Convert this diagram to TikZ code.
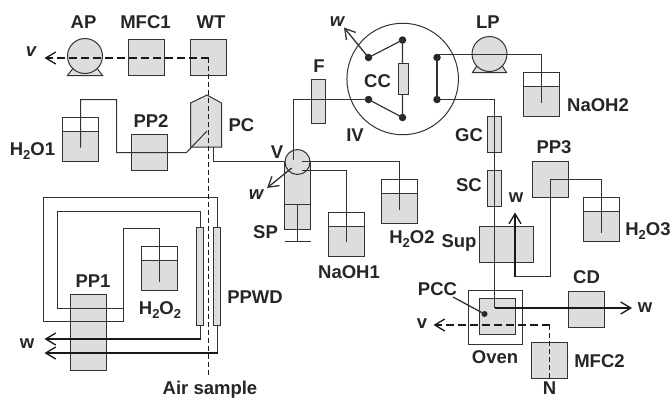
\documentclass[tikz,border=0pt]{standalone}
\usepackage{fontspec}
\setmainfont{Liberation Sans}
\usetikzlibrary{arrows.meta}
\definecolor{boxgray}{HTML}{DCDDDE}
\definecolor{inkgray}{HTML}{333333}
\newcommand{\subtwo}{\raisebox{-3.5pt}{\fontsize{13}{13}\selectfont 2}}
\tikzset{
  unit/.style={draw=inkgray,fill=boxgray,line width=1pt,inner sep=0pt,outer sep=0pt,minimum width=#1,minimum height=36},
  column/.style={draw=inkgray,fill=boxgray,line width=1pt,inner sep=0pt,outer sep=0pt,minimum width=14,minimum height=#1},
  vessel/.style={draw=inkgray,line width=1pt,inner sep=0pt,outer sep=0pt,minimum width=36,minimum height=44},
  pump/.style={circle,draw=inkgray,fill=boxgray,line width=1pt,inner sep=0pt,outer sep=0pt,minimum size=35},
  dot/.style={circle,fill=black!85,inner sep=0pt,outer sep=0pt,minimum size=7.5},
  lab/.style={font=\fontsize{18.5}{18.5}\selectfont\bfseries,text=black!85,inner sep=0pt},
  itlab/.style={font=\fontsize{18.5}{18.5}\selectfont\bfseries\itshape,text=black!85,inner sep=0pt},
  tube/.style={draw=inkgray,line width=1pt},
  drain/.style={draw=black!90,line width=2pt},
  thinflow/.style={draw=black!90,line width=1pt,dash pattern=on 5pt off 3pt},
  gasflow/.style={draw=black!90,line width=2pt,dash pattern=on 8pt off 4pt},
  barb/.style={-{Straight Barb[length=10pt,width=12pt,line width=1.3pt]}}
}
\begin{document}
\begin{tikzpicture}[x=1pt,y=-1pt]
    \useasboundingbox (0,0) rectangle (672,400);

    % square units
    \foreach \Name/\X/\Y in {MFCa/146.5/57.5,WT/208.5/57.5,PPb/149.5/152.5,PPc/550.5/179.5,CD/586.5/309.5,MFCb/549.5/360.5}
       \node[unit=36] (\Name) at (\X,\Y) {};
    \node[unit=54] (Sup) at (506.5,244.5) {};

    % vessels, last value is how deep the tube goes
    \foreach \Name/\X/\Y/\T in {wata/80.5/139.5/8,watb/399.5/201.5/8.5,watc/601.5/219.5/13,perox/159.5/268.5/13,basea/346.5/234.5/7,baseb/541.5/94.5/8.5} {
       \fill[boxgray] (\X-18,\Y-8) rectangle (\X+18,\Y+22);
       \draw[inkgray,line width=1pt] (\X-18,\Y-8) -- (\X+18,\Y-8);
       \node[vessel] (\Name) at (\X,\Y) {};
       \coordinate (\Name tip) at (\X,\Y+\T);
    }

    % pumps
    \draw[inkgray,fill=boxgray,line width=1pt] (67.5,75.5) -- (74,67) -- (96,67) -- (102.5,75.5) -- cycle;
    \node[pump] (AP) at (85,56) {};
    \draw[inkgray,fill=boxgray,line width=1pt] (472.5,72.5) -- (478,64) -- (501,64) -- (506.5,72.5) -- cycle;
    \node[pump] (LP) at (489.5,54) {};

    % phase separator
    \draw[inkgray,fill=boxgray,line width=1pt] (190.5,103) -- (207,95) -- (221.5,103) -- (221.5,147) -- (190.5,147) -- cycle;

    % syringe and valve
    \node[draw=inkgray,fill=boxgray,line width=1pt,inner sep=0pt,outer sep=0pt,minimum width=26,minimum height=67] (SPb) at (297.5,196) {};
    \node[pump,minimum size=25] (V) at (297.5,162) {};
    \coordinate (SPl) at (284.5,204.5);
    \coordinate (SPr) at (310.5,204.5);
    \coordinate (SPm) at (297.5,204.5);
    \coordinate (SPe) at (297.5,241.5);
    \draw[tube] (SPl) -- (SPr);
    \draw[tube] (SPm) -- (SPe);
    \draw[tube] (284.5,241.5) -- (310.5,241.5);

    % columns
    \node[column=44] (F) at (318.5,101.5) {};
    \node[column=36] (GC) at (494.5,134.5) {};
    \node[column=36] (SC) at (494.5,188.5) {};
    \node[draw=inkgray,fill=boxgray,line width=1pt,inner sep=0pt,outer sep=0pt,minimum width=7,minimum height=98] (PWa) at (200,276.5) {};
    \node[draw=inkgray,fill=boxgray,line width=1pt,inner sep=0pt,outer sep=0pt,minimum width=7,minimum height=98] (PWb) at (217,276.5) {};
    \node[draw=inkgray,fill=boxgray,line width=1pt,inner sep=0pt,outer sep=0pt,minimum width=36,minimum height=76] (PPa) at (88.5,332.5) {};

    % oven
    \node[draw=inkgray,line width=1pt,inner sep=0pt,outer sep=0pt,minimum width=54,minimum height=54] (Oven) at (495.5,317.5) {};
    \node[unit=36] (PCC) at (497.5,316.5) {};
    \node[dot,minimum size=6] (PCCd) at (484.5,314) {};

    % injection valve
    \node[circle,draw=inkgray,line width=1pt,inner sep=0pt,outer sep=0pt,minimum size=111.5] (IV) at (402.7,79) {};
    \node[dot] (ccA) at (368.5,57.5) {};
    \node[dot] (ccB) at (402.5,40) {};
    \node[dot] (ccC) at (402.5,117.5) {};
    \node[dot] (ccD) at (368.5,99.5) {};
    \node[dot] (ccE) at (437,57.5) {};
    \node[dot] (ccF) at (437,99.5) {};
    \draw[tube,line width=1.2pt] (ccA.center) -- (ccB.center) -- (ccC.center) -- (ccD.center);
    \draw[tube,line width=2pt] (ccE.center) -- (ccF.center);
    \node[draw=inkgray,fill=boxgray,line width=1pt,inner sep=0pt,outer sep=0pt,minimum width=10,minimum height=31] (CC) at (403.5,79) {};

    % tubing
    \coordinate (pcin) at (207,131);
    \coordinate (pcbend) at (186.5,152.5);
    \draw[tube] (pcin) -- (pcbend) -| (116.5,99.5) -| (watatip);
    \coordinate (pcout) at (213.5,147);
    \coordinate (vleft) at (285,161.5);
    \draw[tube] (pcout) |- (vleft);
    \coordinate (vtop) at (293.5,160);
    \draw[tube] (vtop) |- (ccD.center);
    \coordinate (vright) at (302,161.5);
    \draw[tube] (vright) -| (watbtip);
    \coordinate (vlow) at (302,170.5);
    \draw[tube] (vlow) -| (baseatip);
    \coordinate (lpin) at (437,54.5);
    \draw[tube] (lpin) -| (basebtip);
    \coordinate (pccin) at (494.5,308);
    \draw[tube] (ccF.center) -| (pccin);
    \coordinate (ppout) at (515,276.5);
    \draw[tube] (watctip) |- (550.5,179.5) |- (ppout);
    % PPWD loops
    \coordinate (peroxtop) at (159.5,228.5);
    \draw[tube] (217.5,227.5) |- (43.5,197.5) |- (123.5,321.5) |- (peroxtop) -- (peroxtip);
    \draw[tube] (200.5,227.5) |- (57.5,211.5) |- (123.5,308.5);
    \draw[tube] (200.5,325.5) -- (200.5,339);
    \draw[tube] (217.5,325.5) -- (217.5,353);

    % drains
    \coordinate (wa) at (44.5,339);
    \coordinate (wb) at (44.5,353);
    \draw[drain,barb] (200.5,339) -- (wa);
    \draw[drain,barb] (217.5,353) -- (wb);
    \coordinate (ws) at (515,212.5);
    \draw[drain,barb] (ppout) -- (ws);
    \coordinate (wd) at (632,308);
    \draw[drain,barb] (pccin) -- (wd);
    \coordinate (wv) at (267,188);
    \draw[tube,line width=1.3pt,barb] (291.7,168) -- (wv);
    \coordinate (wc) at (344,27.5);
    \draw[tube,line width=1.3pt,barb] (ccA.center) -- (wc);

    % gas lines
    \coordinate (gasin) at (208.5,58);
    \coordinate (vout) at (44.5,58);
    \draw[gasflow,barb] (gasin) -- (vout);
    \coordinate (airend) at (208.5,378);
    \draw[thinflow] (gasin) -- (airend);
    \coordinate (vbend) at (549.5,325);
    \coordinate (vouta) at (433.5,325);
    \coordinate (nend) at (549.5,380);
    \draw[gasflow,barb] (vbend) -- (vouta);
    \draw[thinflow] (vbend) -- (nend);
    \coordinate (pcclab) at (453,297);
    \draw[tube,line width=1.3pt] (pcclab) -- (PCCd.center);

    % labels
    \node[lab] (lAP) at (83.5,22.5) {AP};
    \node[lab] (lMFCa) at (145.5,22.5) {MFC1};
    \node[lab] (lWT) at (211,22.5) {WT};
    \node[itlab] (lva) at (31,52) {v};
    \node[lab] (lPPb) at (151,121) {PP2};
    \node[lab] (lPC) at (241.5,125.5) {PC};
    \node[lab] (lH2Oa) at (32.5,151) {H\subtwo O1};
    \node[lab] (lF) at (319,66) {F};
    \node[lab] (lV) at (277,152) {V};
    \node[itlab] (lwv) at (256,195) {w};
    \node[lab] (lSP) at (265.5,232) {SP};
    \node[lab] (lNaOHa) at (349,272) {NaOH1};
    \node[lab] (lH2Ob) at (412,239) {H\subtwo O2};
    \node[itlab] (lwc) at (337,22) {w};
    \node[lab] (lCC) at (377.5,81) {CC};
    \node[lab] (lIV) at (355,135) {IV};
    \node[lab] (lLP) at (488,22.5) {LP};
    \node[lab] (lNaOHb) at (598,105.5) {NaOH2};
    \node[lab] (lGC) at (469,135) {GC};
    \node[lab] (lSC) at (469,185.5) {SC};
    \node[lab] (lPPc) at (554,147.5) {PP3};
    \node[lab] (lws) at (516,197.5) {w};
    \node[lab] (lH2Oc) at (648,231) {H\subtwo O3};
    \node[lab] (lSup) at (459,243) {Sup};
    \node[lab] (lPCC) at (437.5,289.5) {PCC};
    \node[lab] (lwd) at (645,307.5) {w};
    \node[lab] (lCD) at (586.5,277.5) {CD};
    \node[lab] (lvb) at (422,323.5) {v};
    \node[lab] (lOven) at (495,357.5) {Oven};
    \node[lab] (lMFCb) at (599.5,361.5) {MFC2};
    \node[lab] (lN) at (549.5,388.5) {N};
    \node[lab] (lPPa) at (93,281) {PP1};
    \node[lab] (lH2Oe) at (160,310) {H\subtwo O\subtwo};
    \node[lab] (lPPWD) at (255,297) {PPWD};
    \node[lab] (lwa) at (27,344) {w};
    \node[lab] (lAir) at (210,389.5) {Air sample};
\end{tikzpicture}
\end{document}
